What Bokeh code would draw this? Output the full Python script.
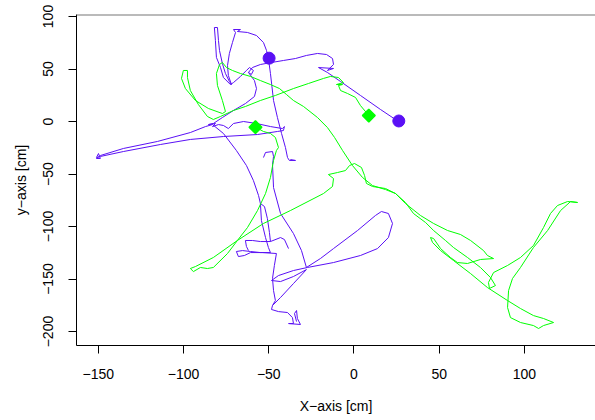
import numpy as np
from bokeh.plotting import figure
from bokeh.models import Range1d, FixedTicker, Span
from bokeh.embed import file_html
from bokeh.resources import INLINE

# ---- data (cm) ----
x_ticks = [-150, -100, -50, 0, 50, 100]
y_ticks = [-200, -150, -100, -50, 0, 50, 100]

purple_seg1 = [(26.1, 0.0), (15.6, 11.4), (3.8, 24.8), (-7.9, 38.1), (-15.6, 46.7), (-20.8, 51.4),
               (-12.0, 50.5), (-15.6, 48.6), (-12.0, 54.3), (-12.6, 60.0), (-16.1, 63.8), (-21.4, 64.8),
               (-27.9, 62.9), (-34.3, 60.0), (-41.4, 58.1), (-48.4, 56.2), (-54.9, 54.3), (-59.6, 51.4),
               (-61.9, 46.7), (-60.2, 44.8), (-59.0, 48.6), (-61.3, 51.4), (-63.1, 48.6), (-66.6, 42.9),
               (-70.7, 37.1), (-72.5, 35.2), (-76.6, 41.9), (-78.3, 51.4), (-80.7, 61.0), (-81.3, 77.1),
               (-81.9, 89.5), (-80.1, 89.5), (-79.5, 77.1), (-78.9, 67.6), (-77.2, 55.2), (-75.4, 45.7),
               (-73.1, 38.1), (-71.9, 35.2), (-73.7, 43.8), (-74.2, 53.3), (-73.1, 64.8), (-71.3, 75.2),
               (-69.5, 84.8), (-70.7, 87.6), (-66.6, 87.6), (-68.4, 85.7), (-62.5, 84.8), (-57.2, 81.9),
               (-53.1, 75.2), (-51.3, 67.6), (-50.2, 60.0), (-49.0, 45.7), (-47.2, 20.0), (-44.9, 3.8),
               (-42.5, -11.4), (-40.2, -24.8), (-39.0, -34.3), (-37.9, -37.1), (-34.3, -37.1), (-37.3, -36.2)]

purple_seg2 = [(-61.9, 46.7), (-58.4, 39.0), (-57.2, 31.4), (-58.4, 23.8), (-63.7, 17.1), (-70.7, 10.5),
               (-77.2, 3.8), (-82.5, -1.9), (-85.4, -2.9), (-81.3, -1.9), (-83.0, -4.8), (-79.5, -2.9),
               (-76.6, -3.8), (-73.7, -6.7), (-70.7, -1.9), (-64.8, 0.0), (-57.2, -1.9), (-49.0, -4.8),
               (-42.0, -6.7), (-40.8, -4.8), (-41.4, -8.6), (-44.9, -9.5), (-56.6, -12.4), (-76.6, -14.3),
               (-96.0, -17.1), (-113.6, -21.9), (-135.3, -28.6), (-148.8, -33.3), (-151.1, -34.3),
               (-149.9, -30.5), (-148.8, -35.2), (-151.1, -35.2), (-148.8, -32.4), (-135.3, -25.7),
               (-115.3, -19.0), (-96.0, -10.5), (-87.1, -4.8), (-83.0, -2.9), (-76.6, -11.4), (-69.0, -27.6),
               (-63.1, -41.9), (-59.0, -56.2), (-56.0, -70.5), (-54.9, -78.1), (-54.3, -94.3), (-51.9, -110.5),
               (-50.2, -120.0), (-49.0, -124.8), (-54.9, -124.8), (-60.7, -123.8), (-65.4, -122.9),
               (-69.0, -123.8), (-67.8, -128.6), (-64.3, -127.6), (-60.7, -124.8), (-53.7, -124.8),
               (-45.5, -125.7), (-46.7, -137.1), (-47.8, -149.5), (-47.2, -161.0), (-46.1, -170.5),
               (-47.8, -175.2), (-48.4, -179.0), (-44.3, -181.0), (-39.0, -181.9), (-36.1, -186.7),
               (-35.5, -192.4), (-38.4, -192.4), (-31.4, -193.3), (-33.2, -187.6), (-33.7, -180.0),
               (-34.9, -182.9), (-33.7, -190.5)]

purple_seg3 = [(-53.1, -34.3), (-51.9, -29.5), (-47.8, -28.6), (-47.2, -33.3), (-47.8, -41.0), (-47.2, -62.9),
               (-43.1, -87.6), (-35.5, -106.7), (-30.8, -122.9), (-27.9, -139.0), (-19.7, -130.5),
               (-12.0, -121.0), (2.1, -103.8), (12.6, -89.5), (16.1, -85.7), (20.2, -87.6), (22.6, -97.1),
               (20.2, -110.5), (13.8, -121.0), (3.8, -127.6), (-12.0, -134.3), (-27.3, -139.0),
               (-35.5, -141.9), (-44.3, -146.7), (-48.4, -151.4), (-43.1, -152.4), (-35.5, -147.6),
               (-27.9, -141.0), (-35.5, -154.3), (-43.1, -167.6), (-47.8, -175.2)]

purple_seg4 = [(-54.9, -78.1), (-52.5, -81.0), (-50.8, -92.4), (-49.6, -105.7), (-49.0, -114.3),
               (-43.1, -110.5), (-40.8, -112.4), (-38.4, -121.0)]

purple_seg5 = [(-49.0, -114.3), (-54.9, -114.3), (-59.6, -113.3), (-63.7, -113.3), (-63.1, -119.0),
               (-61.9, -122.9)]

green_path = [(8.7, 5.7), (3.8, 15.2), (0.9, 22.9), (-3.8, 26.7), (-7.9, 29.5), (-9.1, 34.3), (-6.7, 35.2),
              (-10.3, 35.2), (-6.2, 37.1), (-9.1, 41.9), (-13.8, 42.9), (-17.9, 41.0), (-26.7, 36.2),
              (-35.5, 31.4), (-46.1, 24.8), (-54.9, 20.0), (-63.7, 14.3), (-70.7, 10.5), (-78.3, 4.8),
              (-82.5, 1.9), (-86.0, 4.8), (-91.3, 16.2), (-96.0, 29.5), (-97.7, 41.9), (-97.7, 48.6),
              (-100.1, 48.6), (-101.2, 41.0), (-98.9, 31.4), (-93.0, 20.0), (-85.4, 12.4), (-77.2, 7.6),
              (-75.4, 9.5), (-77.2, 20.0), (-80.1, 34.3), (-80.7, 45.7), (-78.9, 54.3), (-77.2, 56.2),
              (-74.8, 51.4), (-71.3, 48.6), (-66.6, 45.7), (-60.7, 42.9), (-54.9, 39.0), (-49.0, 35.2),
              (-43.7, 31.4), (-39.6, 25.7), (-35.5, 20.0), (-29.6, 14.3), (-21.4, 3.8), (-15.6, -5.7),
              (-11.4, -15.2), (-6.7, -27.6), (-0.9, -41.9), (5.0, -53.3), (10.9, -61.0), (18.5, -64.8),
              (24.4, -68.6), (30.2, -77.1), (34.9, -87.6), (42.0, -96.2), (46.7, -103.8), (53.7, -113.3),
              (58.4, -120.0), (66.6, -129.5), (74.2, -139.0), (80.1, -148.6), (83.0, -156.2), (79.5, -159.0),
              (78.9, -153.3), (81.9, -143.8), (90.1, -137.1), (97.7, -129.5), (105.3, -118.1), (111.2, -101.0),
              (115.3, -87.6), (119.4, -80.0), (125.3, -76.2), (131.2, -77.1), (127.1, -76.2), (121.2, -84.8),
              (113.6, -103.8), (105.3, -120.0), (97.7, -139.0), (93.0, -149.5), (90.7, -161.0), (90.1, -177.1),
              (91.8, -186.7), (97.7, -191.4), (105.3, -194.3), (108.3, -197.1), (111.2, -194.3), (117.1, -191.4),
              (111.2, -187.6), (105.3, -184.8), (97.7, -178.1), (90.1, -170.5), (78.3, -158.1), (68.4, -144.8),
              (58.4, -132.4), (50.8, -122.9), (46.1, -115.2), (44.9, -110.5), (46.7, -111.4), (50.8, -121.0),
              (56.6, -129.5), (60.7, -134.3), (66.6, -135.2), (74.2, -131.4), (81.9, -130.5), (78.3, -127.6),
              (76.0, -122.9), (68.4, -113.3), (62.5, -107.6), (54.9, -103.8), (46.7, -97.1), (39.0, -89.5),
              (30.2, -78.1), (24.4, -68.6), (18.5, -63.8), (10.9, -61.9), (7.3, -59.0), (6.2, -51.4),
              (4.4, -43.8), (0.3, -40.0), (-2.6, -41.9), (-5.0, -46.7), (-9.7, -48.6), (-15.0, -50.5),
              (-12.0, -54.3), (-12.6, -61.9), (-17.9, -68.6), (-37.3, -84.8), (-53.1, -97.1), (-68.4, -113.3),
              (-82.5, -129.5), (-93.0, -138.1), (-96.0, -140.0), (-94.2, -142.9), (-90.1, -139.0),
              (-86.0, -140.0), (-82.5, -139.0), (-74.2, -125.7), (-68.4, -113.3), (-62.5, -101.0),
              (-56.6, -84.8), (-51.9, -68.6), (-49.0, -53.3), (-47.2, -37.1), (-45.5, -27.6), (-44.3, -24.8),
              (-46.1, -15.2), (-49.0, -11.4), (-53.1, -9.5), (-57.8, -5.4)]

purple_marks_x = [-49.8, 26.3]
purple_marks_y = [60.3, 0.5]
green_marks_x = [-57.8, 8.7]
green_marks_y = [-5.4, 5.7]

PURPLE = "#5a10f5"
GREEN = "#00ff00"
FONT = "Liberation Sans"


def join(segs):
    xs, ys = [], []
    for i, s in enumerate(segs):
        if i:
            xs.append(np.nan)
            ys.append(np.nan)
        xs += [a for a, b in s]
        ys += [b for a, b in s]
    return np.array(xs), np.array(ys)


px, py = join([purple_seg1, purple_seg2, purple_seg3, purple_seg4, purple_seg5])
gx, gy = join([green_path])

p = figure(width=595, height=420, output_backend="svg", toolbar_location=None,
           x_range=Range1d(-162.8, 141.7), y_range=Range1d(-213.3, 101.9),
           min_border_left=76, min_border_right=0, min_border_top=14, min_border_bottom=75,
           background_fill_color="white", border_fill_color="white")
p.outline_line_color = None
p.grid.visible = False

p.line(px, py, line_color=PURPLE, line_width=1)
p.line(gx, gy, line_color=GREEN, line_width=1)
p.scatter(purple_marks_x, purple_marks_y, marker="circle", size=12,
          fill_color=PURPLE, line_color=PURPLE)
p.scatter(green_marks_x, green_marks_y, marker="square", size=9, angle=np.pi / 4,
          fill_color=GREEN, line_color=GREEN, line_width=1.5)

p.add_layout(Span(location=101.9, dimension="width", line_color="#777777", line_width=2))

for ax, ticks, title in ((p.xaxis, x_ticks, "X\u2212axis [cm]"), (p.yaxis, y_ticks, "y\u2212axis [cm]")):
    ax.ticker = FixedTicker(ticks=ticks)
    ax.major_label_overrides = {t: str(t).replace("-", "\u2212") for t in ticks}
    ax.minor_tick_line_color = None
    ax.major_tick_out = 8
    ax.major_tick_in = 0
    ax.axis_line_color = "black"
    ax.major_tick_line_color = "black"
    ax.major_label_text_font = FONT
    ax.major_label_text_font_size = "14px"
    ax.major_label_text_color = "black"
    ax.axis_label = title
    ax.axis_label_text_font = FONT
    ax.axis_label_text_font_size = "14px"
    ax.axis_label_text_font_style = "normal"
    ax.axis_label_text_color = "black"
    ax.major_label_standoff = 15

p.xaxis.axis_label_standoff = 16
p.yaxis.axis_label_standoff = 12
p.yaxis.major_label_orientation = "vertical"

open("out.html", "w").write(file_html(p, INLINE))
